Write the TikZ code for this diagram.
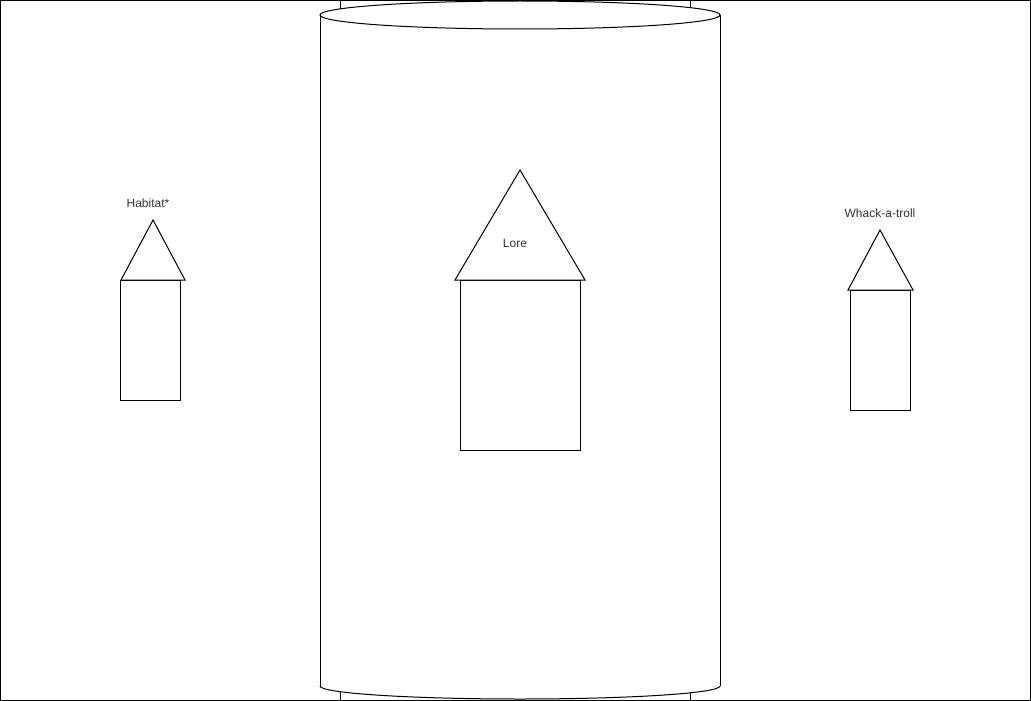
\documentclass[tikz,border=0pt]{standalone}
\usepackage{fontspec}
\setmainfont{Liberation Sans}
\usetikzlibrary{positioning}
\definecolor{labelgray}{HTML}{333333}
\tikzset{
  outline/.style={draw=black, line width=1pt},
  wall/.style={draw=black, line width=1pt, fill=white},
  roof/.style={draw=black, line width=1pt, fill=white, line join=miter},
  housename/.style={font=\fontsize{12}{14}\selectfont, text=labelgray, inner sep=0pt}
}
\begin{document}
\begin{tikzpicture}[x=1pt, y=-1pt]
\useasboundingbox (0,0) rectangle (1031,701);
% frame and the box behind the cylinder
\draw[outline] (0.5,0.5) rectangle (1030.5,700.5);
\draw[outline] (340,0) -- (340,700);
\draw[outline] (690,0) -- (690,700);
% cylinder
\fill[white] (320,15) rectangle (720,686);
\fill[white] (520,686) ellipse [x radius=200, y radius=13];
\draw[outline] (320,15) -- (320,686);
\draw[outline] (720,15) -- (720,686);
\begin{scope}
  \clip (300,686) rectangle (740,705);
  \draw[outline] (520,686) ellipse [x radius=200, y radius=13];
\end{scope}
\draw[wall] (520,15) ellipse [x radius=200, y radius=14];
% Habitat*
\draw[wall] (120,280) rectangle (180,400);
\draw[roof] (121,280) -- (153,220) -- (185,280) -- cycle;
\node[housename] (habitat) at (148,203) {Habitat*};
% Lore
\draw[wall] (460,280) rectangle (580,450);
\draw[roof] (455,280) -- (520,170) -- (585,280) -- cycle;
\node[housename] (lore) at (515,243) {Lore};
% Whack-a-troll
\draw[wall] (850,290) rectangle (910,410);
\draw[roof] (848,290) -- (880,230) -- (913,290) -- cycle;
\node[housename] (whack) at (880,213) {Whack-a-troll};
\end{tikzpicture}
\end{document}
